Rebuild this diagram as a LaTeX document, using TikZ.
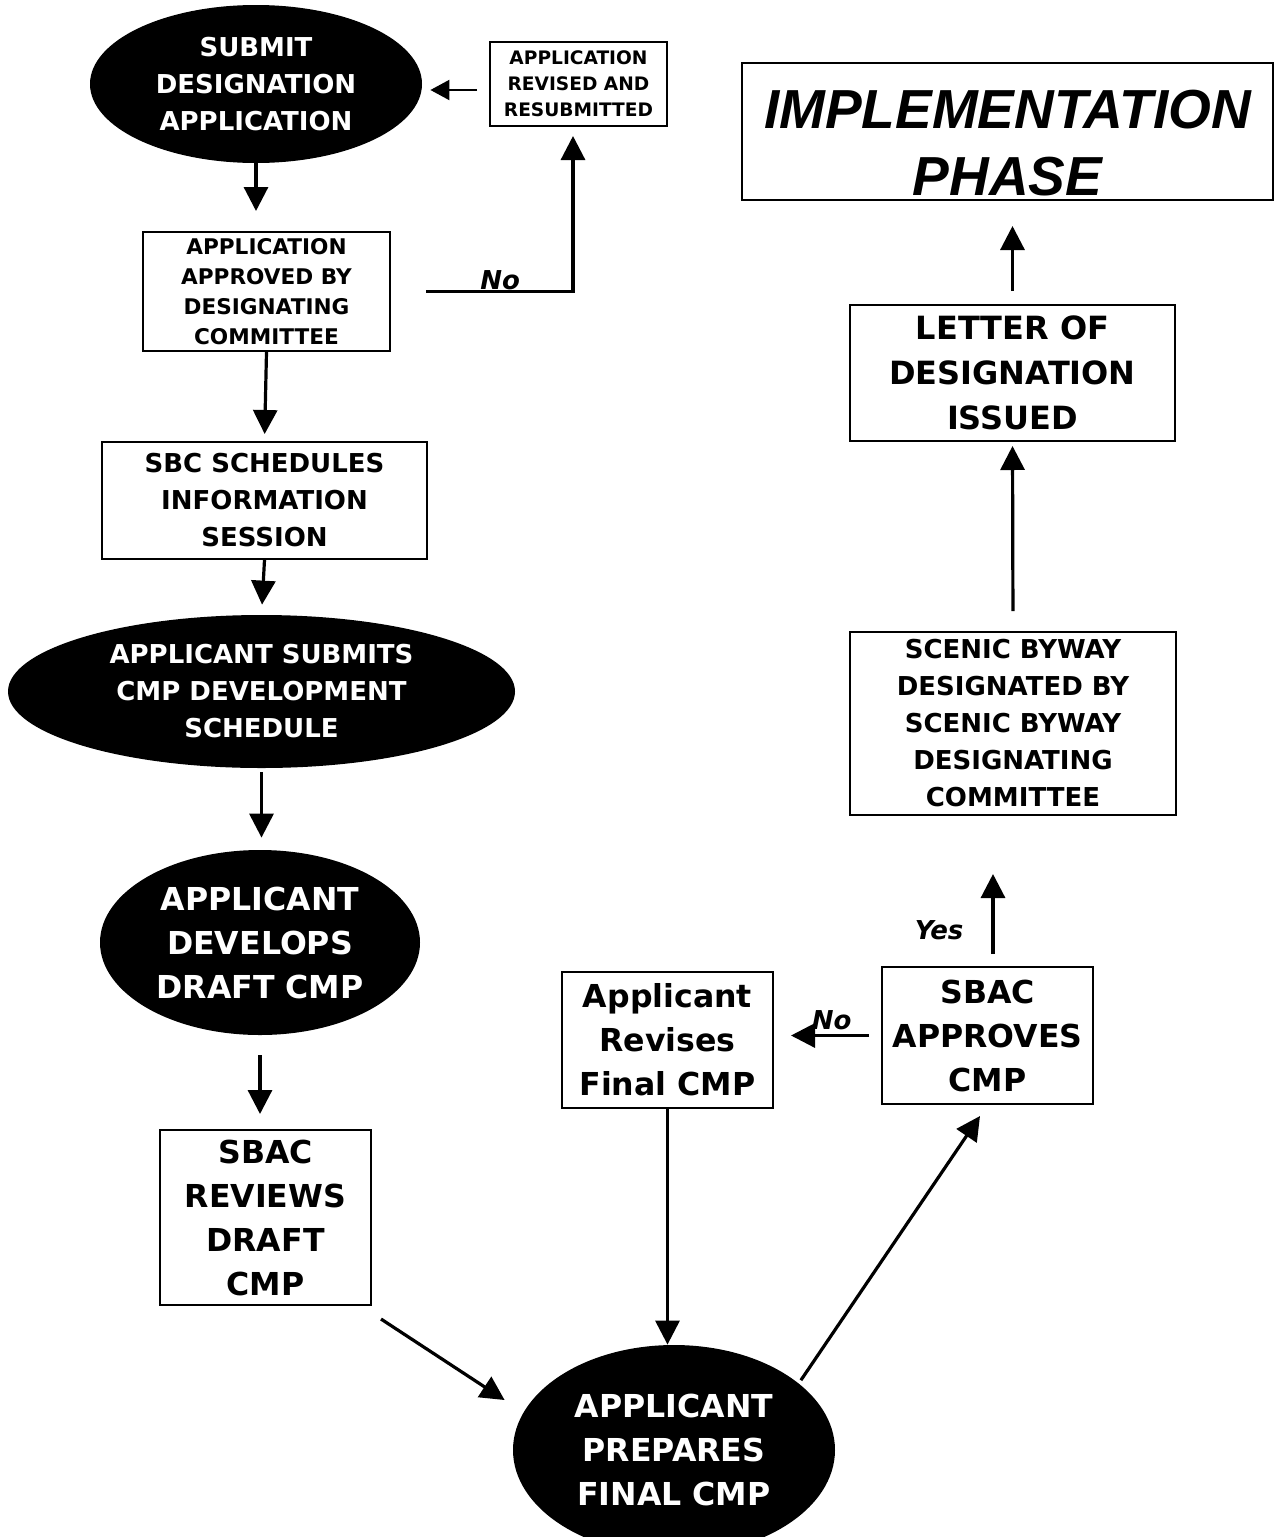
\documentclass[tikz,border=0pt]{standalone}
\usepackage{fontspec}
\setmainfont{DejaVu Sans}
\newfontfamily\phasefont{Liberation Sans}
\usetikzlibrary{shapes.geometric,arrows.meta}

\begin{document}
\begin{tikzpicture}[x=0.5pt, y=-0.5pt,
	box/.style={draw, line width=1pt, inner sep=1pt, align=center},
	blob/.style={ellipse, fill=black, text=white, inner sep=0pt, align=center},
	arr/.style={line width=1.6pt, -{Triangle[length=12pt,width=12pt]}},
	thinarr/.style={line width=1pt, -{Triangle[length=9.5pt,width=10pt]}},
	tag/.style={font=\fontsize{13}{15}\selectfont\bfseries\itshape, inner sep=0pt}]
		\useasboundingbox (0,0) rectangle (1276,1537);
		\clip (0,0) rectangle (1276,1537);
		
		%left column
		\node (submit) at (256,84) [blob, minimum width=166pt, minimum height=79pt, font=\fontsize{13}{18.5}\selectfont\bfseries]{SUBMIT\\DESIGNATION\\APPLICATION};
		\node (revbox) at (578.5,84) [box, minimum width=88.5pt, minimum height=42pt, font=\fontsize{9.3}{13}\selectfont\bfseries]{APPLICATION\\REVISED AND\\RESUBMITTED};
		\node (apprbox) at (266.5,291.5) [box, minimum width=123.5pt, minimum height=59.5pt, font=\fontsize{10.8}{15}\selectfont\bfseries]{APPLICATION\\APPROVED BY\\DESIGNATING\\COMMITTEE};
		\node (sbcbox) at (264.5,500.5) [box, minimum width=162.5pt, minimum height=58.5pt, font=\fontsize{13}{18.5}\selectfont\bfseries]{SBC SCHEDULES\\INFORMATION\\SESSION};
		\node (submits) at (261.5,691.5) [blob, minimum width=253.5pt, minimum height=76.5pt, font=\fontsize{13}{18.5}\selectfont\bfseries]{APPLICANT SUBMITS\\CMP DEVELOPMENT\\SCHEDULE};
		\node (develops) at (260,942.5) [blob, minimum width=160pt, minimum height=92.5pt, font=\fontsize{15.8}{22}\selectfont\bfseries]{APPLICANT\\DEVELOPS\\DRAFT CMP};
		\node (reviewbox) at (265.5,1217.5) [box, minimum width=105.5pt, minimum height=87.5pt, font=\fontsize{15.8}{22}\selectfont\bfseries]{SBAC\\REVIEWS\\DRAFT\\CMP};
		
		%bottom and right column
		\node (prepares) at (674,1450) [blob, minimum width=161pt, minimum height=105pt, font=\fontsize{15.8}{22}\selectfont\bfseries]{APPLICANT\\PREPARES\\FINAL CMP};
		\node (revisebox) at (667.5,1040) [box, minimum width=105.5pt, minimum height=68pt, font=\fontsize{15.8}{22}\selectfont\bfseries]{Applicant\\Revises\\Final CMP};
		\node (approvebox) at (987.5,1035.5) [box, minimum width=105.5pt, minimum height=68.5pt, font=\fontsize{15.8}{22}\selectfont\bfseries]{SBAC\\APPROVES\\CMP};
		\node (scenicbox) at (1013,723.5) [box, minimum width=163pt, minimum height=91.5pt, font=\fontsize{13}{18.5}\selectfont\bfseries]{SCENIC BYWAY\\DESIGNATED BY\\SCENIC BYWAY\\DESIGNATING\\COMMITTEE};
		\node (letterbox) at (1012.5,373) [box, minimum width=162.5pt, minimum height=68pt, font=\fontsize{16}{22.5}\selectfont\bfseries]{LETTER OF\\DESIGNATION\\ISSUED};
		\node (implbox) at (1007.5,131.5) [box, minimum width=265.5pt, minimum height=68.5pt, font=\phasefont\fontsize{27.5}{33.5}\selectfont\bfseries\itshape]{\raisebox{-6pt}[\height][\depth]{IMPLEMENTATION}\\\raisebox{-6pt}[\height][\depth]{PHASE}};
		
		%arrows
		\draw[thinarr, shorten <=6pt, shorten >=4pt] ([yshift=-3pt]revbox.west) -- ([yshift=-3pt]revbox.west -| submit.east);
		\draw[arr, shorten >=10pt] (submit.south) -- (submit.south |- apprbox.north);
		\draw[arr, shorten <=17.5pt, shorten >=4.5pt] (apprbox.east) -| ([xshift=-2.75pt]revbox.south) node[tag, pos=0.3, anchor=south]{No};
		\draw[arr, shorten >=3.5pt] (apprbox.south) -- (sbcbox.north);
		\draw[arr, shorten >=5pt] (sbcbox.south) -- (submits.north);
		\draw[arr, shorten <=2pt, shorten >=6pt] (submits.south) -- (submits.south |- develops.north);
		\draw[arr, shorten <=10pt, shorten >=7.5pt] (develops.south) -- (develops.south |- reviewbox.north);
		\draw[arr] ([xshift=4.5pt,yshift=-6.5pt]reviewbox.south east) -- ([xshift=-4pt,yshift=25pt]prepares.west);
		\draw[arr] (revisebox.south) -- (revisebox.south |- prepares.north);
		\draw[arr] ([xshift=3pt]prepares.30) -- ([xshift=-3.75pt,yshift=-5.5pt]approvebox.south);
		\draw[arr, shorten <=6pt, shorten >=8.5pt] (approvebox.west) -- (approvebox.west -| revisebox.east) node[tag, pos=0.46, anchor=south, yshift=2pt]{No};
		\draw[arr, shorten <=6pt, shorten >=29pt] ([xshift=2.75pt]approvebox.north) -- ([xshift=2.75pt]approvebox.north |- scenicbox.south) node[tag, pos=0.24, anchor=east, xshift=-14pt]{Yes};
		\draw[arr, shorten <=10pt, shorten >=2pt] (scenicbox.north) -- (letterbox.south);
		\draw[arr, shorten <=6.5pt, shorten >=12.5pt] (letterbox.north) -- (letterbox.north |- implbox.south);
\end{tikzpicture}
\end{document}
